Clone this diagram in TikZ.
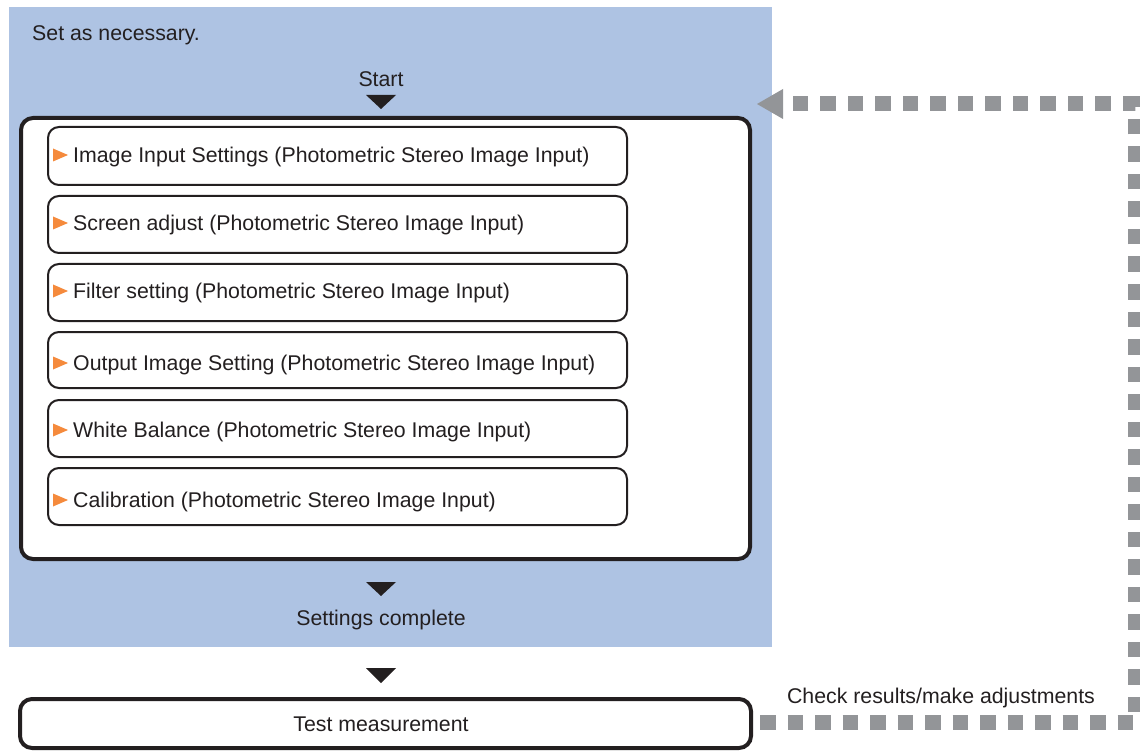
\documentclass[tikz,border=0pt]{standalone}
\usepackage{fontspec}
\setmainfont{Liberation Sans}
\usetikzlibrary{arrows.meta}
\definecolor{panelblue}{HTML}{AEC3E3}
\definecolor{txt}{HTML}{231F20}
\definecolor{loopgray}{HTML}{939598}
\definecolor{mark}{HTML}{F58A3C}
\begin{document}
\begin{tikzpicture}[x=1pt,y=-1pt,
  every node/.style={text=txt,font=\fontsize{21.3}{25}\selectfont},
  bigbox/.style={draw=txt,line width=4pt,rounded corners=12pt,fill=white},
  stepbox/.style={draw=txt,line width=2pt,rounded corners=11pt,fill=white},
  downtri/.style={fill=txt,draw=none},
  orangetri/.style={fill=mark,draw=none},
  loopline/.style={draw=loopgray,line width=15pt,dash pattern=on 15.5pt off 12pt}
]
\useasboundingbox (0,0) rectangle (1140,751);
% blue panel
\fill[panelblue] (9,7) rectangle (772,647);
\node[anchor=base west,inner sep=0pt] (setnec) at (32,41) {Set as necessary.};
\node[anchor=base,inner sep=0pt] (start) at (381,87) {Start};
\fill[downtri] (366,95) -- (396,95) -- (381,109) -- cycle;
% big box
\draw[bigbox] (21,118) rectangle (750,559);
% step boxes
\foreach \i/\t/\b/\ty/\lab in {
  1/127/185/155/{Image Input Settings (Photometric Stereo Image Input)},
  2/196/253/223/{Screen adjust (Photometric Stereo Image Input)},
  3/264/321/291/{Filter setting (Photometric Stereo Image Input)},
  4/332/388/363/{Output Image Setting (Photometric Stereo Image Input)},
  5/400/457/430/{White Balance (Photometric Stereo Image Input)},
  6/468/525/500/{Calibration (Photometric Stereo Image Input)}}{
  \draw[stepbox] (48,\t) rectangle (627,\b);
  \fill[orangetri] (53,\ty-6.5) -- (68,\ty) -- (53,\ty+6.5) -- cycle;
  \node[anchor=base west,inner sep=0pt] (s\i) at (73,\ty+7.7) {\lab};
}
\fill[downtri] (366,582) -- (396,582) -- (381,596) -- cycle;
\node[anchor=base,inner sep=0pt] (done) at (381,625) {Settings complete};
\fill[downtri] (366,668) -- (396,668) -- (381,683) -- cycle;
% test measurement
\node[draw=txt,line width=4pt,rounded corners=12pt,fill=white,minimum width=731pt,minimum height=49pt,inner sep=0pt] (test) at (385.5,723.5) {};
\node[anchor=base,inner sep=0pt] (testlabel) at (381,731) {Test measurement};
\node[anchor=base,inner sep=0pt] (check) at (941,703) {Check results/make adjustments};
% loop
\coordinate (c1) at (1135,722);
\coordinate (c2) at (1135,104);
\coordinate (tip) at (757,104);
\draw[loopline] ([xshift=7pt]test.east |- c1) -- (c1) -- (c2) -- (783,104);
\fill[loopgray] (tip) -- (783,89) -- (783,119) -- cycle;
\end{tikzpicture}
\end{document}
